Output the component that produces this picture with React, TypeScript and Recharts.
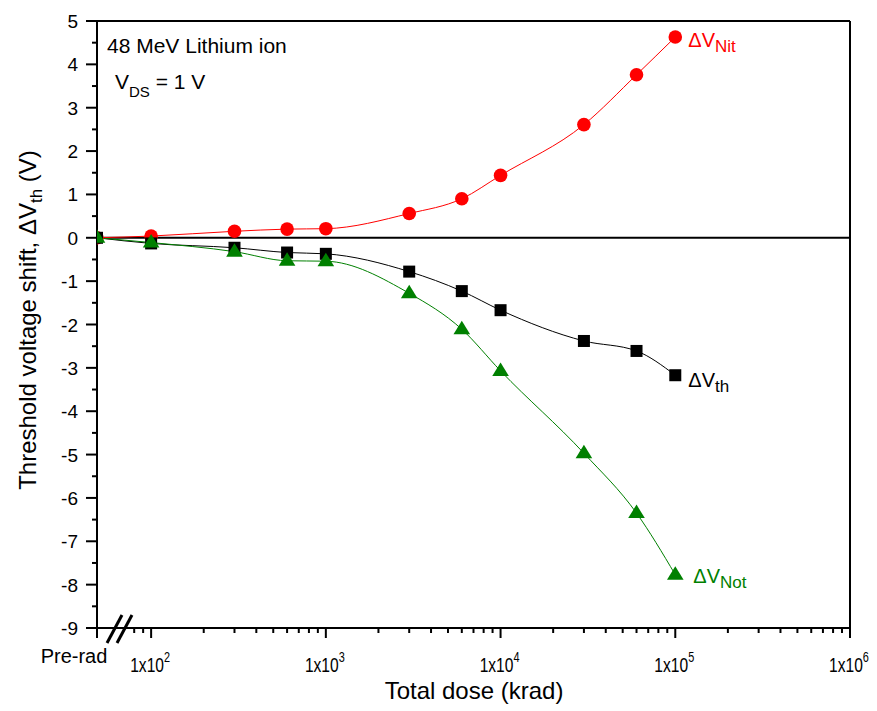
import { LineChart, Line, XAxis, YAxis, ReferenceLine, LabelList } from 'recharts';

const FONT = '"Liberation Sans", Arial, Helvetica, sans-serif';

// pre-rad point sits at the left edge of the log axis
const PRE_RAD = 49;

const doses = [PRE_RAD, 100, 300, 600, 1000, 3000, 6000, 10000, 30000, 60000, 100000];
const dVth = [0, -0.13, -0.23, -0.34, -0.37, -0.78, -1.23, -1.67, -2.38, -2.61, -3.17];
const dVNit = [0, 0.04, 0.15, 0.2, 0.21, 0.56, 0.9, 1.44, 2.61, 3.76, 4.63];
const dVNot = [0, -0.11, -0.32, -0.53, -0.54, -1.28, -2.11, -3.07, -4.97, -6.35, -7.77];

const majorX = [100, 1000, 10000, 100000, 1000000];
const minorMult = [2, 3, 4, 5, 6, 7, 8, 9];
const yMajor = [-9, -8, -7, -6, -5, -4, -3, -2, -1, 0, 1, 2, 3, 4, 5];

const xTicks = [PRE_RAD, 80, 90];
majorX.forEach((m, i) => {
  xTicks.push(m);
  if (i < majorX.length - 1) minorMult.forEach((k) => xTicks.push(m * k));
});
const yTicks: number[] = [];
yMajor.forEach((v, i) => {
  yTicks.push(v);
  if (i < yMajor.length - 1) yTicks.push(v + 0.5);
});

const data = doses.map((d, i) => ({ dose: d, th: dVth[i], nit: dVNit[i], not: dVNot[i] }));
const LAST = doses.length - 1;

const XTick = (props: any) => {
  const { x, y, payload } = props;
  const v = payload.value;
  if (v === PRE_RAD) {
    return (
      <g>
        <line x1={x} y1={y} x2={x} y2={y + 10} stroke="#000" strokeWidth={2} />
        <text x={x - 23} y={y + 35} textAnchor="middle" fontSize={20} fontFamily={FONT} fill="#000">Pre-rad</text>
        <line x1={x + 10} y1={y + 15} x2={x + 25} y2={y - 13} stroke="#000" strokeWidth={3} />
        <line x1={x + 20} y1={y + 15} x2={x + 35} y2={y - 13} stroke="#000" strokeWidth={3} />
      </g>
    );
  }
  const major = majorX.includes(v);
  if (!major) {
    return <line x1={x} y1={y} x2={x} y2={y + 5} stroke="#000" strokeWidth={2} />;
  }
  const exp = Math.round(Math.log10(v));
  // tick labels in the original are set in a condensed face
  return (
    <g>
      <line x1={x} y1={y} x2={x} y2={y + 10} stroke="#000" strokeWidth={2} />
      <g transform={`translate(${x - 1},${y + 44}) scale(0.78,1)`}>
        <text x={0} y={0} textAnchor="middle" fontSize={20} fontFamily={FONT} fill="#000">
          1x10<tspan dy={-10} fontSize={14}>{exp}</tspan>
        </text>
      </g>
    </g>
  );
};

const YTick = (props: any) => {
  const { x, y, payload } = props;
  const v = payload.value;
  const major = Number.isInteger(v);
  return (
    <g>
      <line x1={x - (major ? 11 : 5)} y1={y} x2={x} y2={y} stroke="#000" strokeWidth={2} />
      {major && (
        <text x={x - 19} y={y + 7} textAnchor="end" fontSize={19} fontFamily={FONT} fill="#000">{v}</text>
      )}
    </g>
  );
};

const Square = (props: any) => {
  const { cx, cy } = props;
  return <rect key={`s${props.index}`} x={cx - 6} y={cy - 6} width={12} height={12} fill="#000" />;
};
const Circle = (props: any) => {
  const { cx, cy } = props;
  return <circle key={`c${props.index}`} cx={cx} cy={cy} r={6.8} fill="#ff0000" />;
};
const Triangle = (props: any) => {
  const { cx, cy } = props;
  return (
    <polygon
      key={`t${props.index}`}
      points={`${cx},${cy - 8.5} ${cx - 8.3},${cy + 5} ${cx + 8.3},${cy + 5}`}
      fill="#008000"
    />
  );
};

const endLabel = (sub: string, color: string, dx: number, dy: number) => (props: any) => {
  if (props.index !== LAST) return null;
  return (
    <text x={props.x + dx} y={props.y + dy} fontSize={20} fontFamily={FONT} fill={color}>
      ΔV<tspan dy={5} fontSize={17}>{sub}</tspan>
    </text>
  );
};

export default function App() {
  return (
    <div style={{ position: 'absolute', left: 0, top: 0, background: '#fff' }}>
      <LineChart width={877} height={711} data={data} margin={{ top: 21, right: 27, left: 0, bottom: 0 }}>
        <XAxis
          dataKey="dose"
          type="number"
          scale="log"
          domain={[PRE_RAD, 1000000]}
          allowDataOverflow
          ticks={xTicks}
          interval={0}
          tick={<XTick />}
          tickLine={false}
          tickSize={0}
          tickMargin={0}
          height={83}
          axisLine={{ stroke: '#000', strokeWidth: 2 }}
        />
        <YAxis
          type="number"
          domain={[-9, 5]}
          ticks={yTicks}
          interval={0}
          tick={<YTick />}
          tickLine={false}
          tickSize={0}
          tickMargin={0}
          width={97}
          axisLine={{ stroke: '#000', strokeWidth: 2 }}
        />
        <ReferenceLine y={5} stroke="#000" strokeWidth={2} />
        <ReferenceLine x={1000000} stroke="#000" strokeWidth={2} />
        <ReferenceLine y={0} stroke="#000" strokeWidth={2} />
        <Line dataKey="nit" type="monotone" stroke="#ff0000" strokeWidth={1} dot={Circle} isAnimationActive={false}>
          <LabelList dataKey="nit" content={endLabel('Nit', '#ff0000', 13, 10)} />
        </Line>
        <Line dataKey="th" type="monotone" stroke="#000" strokeWidth={1} dot={Square} isAnimationActive={false}>
          <LabelList dataKey="th" content={endLabel('th', '#000', 13, 12)} />
        </Line>
        <Line dataKey="not" type="monotone" stroke="#008000" strokeWidth={1} dot={Triangle} isAnimationActive={false}>
          <LabelList dataKey="not" content={endLabel('Not', '#008000', 18, 8)} />
        </Line>
        <text x={107} y={53} fontSize={21} fontFamily={FONT} fill="#000">48 MeV Lithium ion</text>
        <text x={115} y={89} fontSize={21} fontFamily={FONT} fill="#000">
          V<tspan dy={8} fontSize={15}>DS</tspan><tspan dy={-8}> = 1 V</tspan>
        </text>
        <text x={474} y={699} textAnchor="middle" fontSize={24} fontFamily={FONT} fill="#000">Total dose (krad)</text>
        <text x={36} y={320} transform="rotate(-90 36 320)" textAnchor="middle" fontSize={24} fontFamily={FONT} fill="#000">
          Threshold voltage shift, ΔV<tspan dy={6} fontSize={17}>th</tspan><tspan dy={-6}> (V)</tspan>
        </text>
      </LineChart>
    </div>
  );
}
